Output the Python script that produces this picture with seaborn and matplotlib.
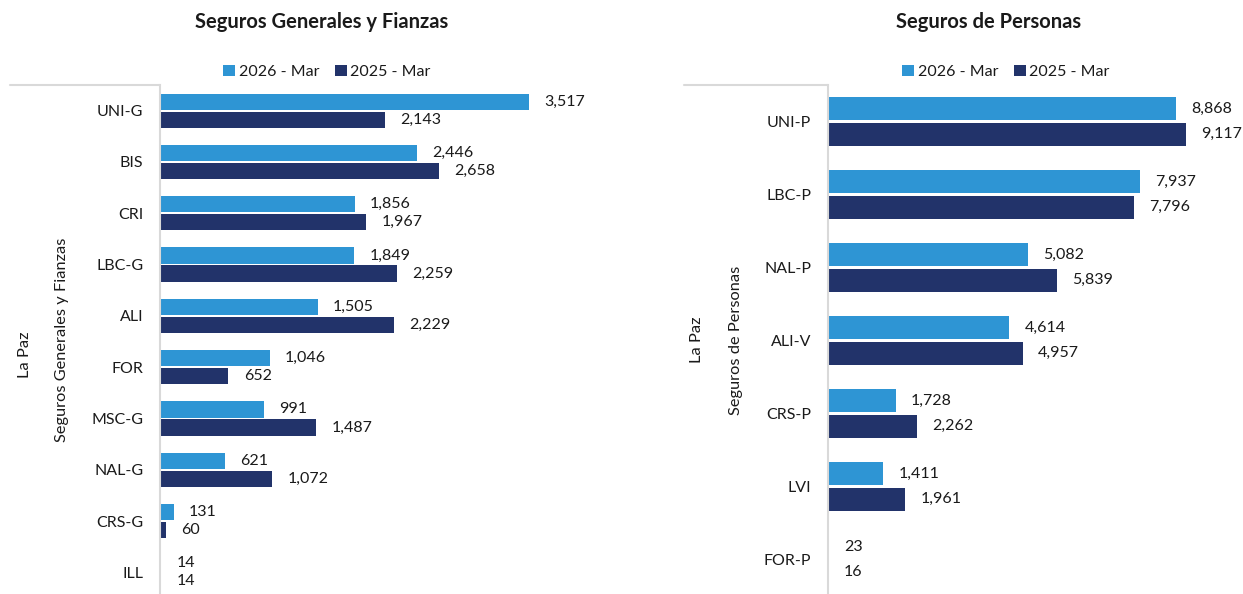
import numpy as np
import pandas as pd
import matplotlib
matplotlib.use("Agg")
import matplotlib.pyplot as plt
from matplotlib.lines import Line2D
import seaborn as sns

# data
gen_cats = ["UNI-G", "BIS", "CRI", "LBC-G", "ALI", "FOR", "MSC-G", "NAL-G", "CRS-G", "ILL"]
gen_2026 = [3517, 2446, 1856, 1849, 1505, 1046, 991, 621, 131, 14]
gen_2025 = [2143, 2658, 1967, 2259, 2229, 652, 1487, 1072, 60, 14]

per_cats = ["UNI-P", "LBC-P", "NAL-P", "ALI-V", "CRS-P", "LVI", "FOR-P"]
per_2026 = [8868, 7937, 5082, 4614, 1728, 1411, 23]
per_2025 = [9117, 7796, 5839, 4957, 2262, 1961, 16]

periods = ["2026 - Mar", "2025 - Mar"]
colors = ["#2E95D4", "#22336A"]

sns.set_theme(style="white")
plt.rcParams["font.family"] = ["Lato", "DejaVu Sans"]
text_color = "#1a1a1a"
line_color = "#D9D9D9"

W, H = 1243, 594
fig = plt.figure(figsize=(W / 100, H / 100), dpi=100)


def long_df(cats, v26, v25):
    return pd.DataFrame({
        "cat": cats * 2,
        "period": [periods[0]] * len(cats) + [periods[1]] * len(cats),
        "value": list(v26) + list(v25),
    })


def panel(rect, cats, v26, v25, xmax, title, title_x, legend_x, side_labels, top_line):
    x0, y_top, x1, y_bot = rect
    ax = fig.add_axes([x0 / W, 1 - y_bot / H, (x1 - x0) / W, (y_bot - y_top) / H])
    df = long_df(cats, v26, v25)
    sns.barplot(data=df, y="cat", x="value", hue="period", hue_order=periods,
                palette=colors, saturation=1, orient="h", width=0.7, gap=0.1, ax=ax,
                edgecolor="none", legend=True)
    ax.set_xlim(0, xmax)
    ax.set_ylim(len(cats) - 0.5, -0.5)
    ax.set_xlabel("")
    ax.set_ylabel("")
    ax.set_xticks([])
    for s in ["top", "right", "bottom"]:
        ax.spines[s].set_visible(False)
    ax.spines["left"].set_color(line_color)
    ax.spines["left"].set_linewidth(1.5)
    ax.tick_params(axis="y", length=0, pad=12, labelsize=11.5, labelcolor=text_color)

    for cont in ax.containers:
        for bar in cont:
            w = bar.get_width()
            yc = bar.get_y() + bar.get_height() / 2
            ax.annotate(f"{w:,.0f}", (w, yc), xytext=(11, 0), textcoords="offset points",
                        ha="left", va="center", fontsize=11.5, color=text_color)

    handles, labels = ax.get_legend_handles_labels()
    ax.legend_.remove()
    fig.legend(handles, labels, loc="center", bbox_to_anchor=(legend_x / W, 1 - 72 / H),
               ncol=2, frameon=False, fontsize=11.5, handlelength=0.75, handleheight=0.75,
               handletextpad=0.2, columnspacing=1.0, labelcolor=text_color)

    fig.text(title_x / W, 1 - 22 / H, title, ha="center", va="center",
             fontsize=14.5, fontweight="bold", color=text_color)
    for (lx, ly, txt) in side_labels:
        fig.text(lx / W, 1 - ly / H, txt, rotation=90, ha="center", va="center",
                 fontsize=11.8, color=text_color)
    fig.add_artist(Line2D([top_line[0] / W, top_line[1] / W], [1 - y_top / H, 1 - y_top / H],
                          color=line_color, linewidth=1.5))
    return ax


panel((160, 85, 660, 598), gen_cats, gen_2026, gen_2025, 4766,
      "Seguros Generales y Fianzas", 322, 327,
      [(25, 355, "La Paz"), (62, 340, "Seguros Generales y Fianzas")], (10, 160))

panel((828, 85, 1243, 596), per_cats, per_2026, per_2025, 10568,
      "Seguros de Personas", 989, 1006,
      [(697, 340, "La Paz"), (736, 340, "Seguros de Personas")], (684, 828))

fig.savefig("out.png", dpi=100)
